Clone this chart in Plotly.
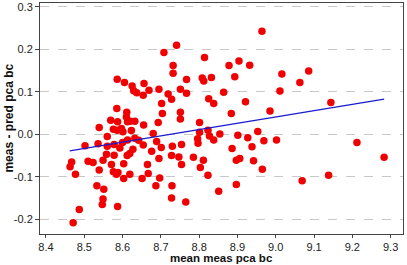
import plotly.graph_objects as go

# data
mean_meas = [
    8.471, 8.487, 8.467, 8.463, 8.477, 8.502, 8.510, 8.523, 8.539, 8.533, 8.536, 8.539,
    8.586, 8.605, 8.625, 8.629, 8.637, 8.654, 8.656, 8.585, 8.611, 8.569, 8.587, 8.610,
    8.613, 8.620, 8.632, 8.576, 8.586, 8.597, 8.601, 8.623, 8.560, 8.632, 8.642, 8.613,
    8.600, 8.655, 8.560, 8.578, 8.593, 8.558, 8.578, 8.627, 8.619, 8.612, 8.654, 8.549,
    8.571, 8.603, 8.576, 8.584, 8.588, 8.603, 8.619, 8.651, 8.551, 8.549, 8.547, 8.587,
    8.964, 8.741, 8.708, 8.732, 8.732, 8.814, 8.878, 8.904, 8.932, 8.893, 8.808, 8.812,
    8.832, 8.767, 8.669, 8.695, 8.719, 8.728, 8.751, 8.767, 8.702, 8.825, 8.838, 8.864,
    8.921, 8.704, 8.751, 8.751, 8.693, 8.801, 8.884, 8.985, 8.680, 8.801, 8.823, 8.827,
    8.854, 8.901, 8.927, 8.953, 8.969, 9.002, 9.016, 9.086, 9.063, 9.011, 9.144,
    8.689, 8.676, 8.701, 8.730, 8.754, 8.695, 8.728, 8.747, 8.754, 8.665, 8.667, 8.697,
    8.687, 8.729, 8.728, 8.765, 8.785, 8.811, 8.803, 8.823, 8.851, 8.796, 8.797, 8.838,
    8.886, 8.938, 8.897, 8.906, 8.942, 8.965, 8.897, 9.069, 9.138, 9.212, 9.283,
]
meas_minus_pred = [
    -0.208, -0.177, -0.065, -0.076, -0.094, -0.027, -0.063, -0.066, -0.084, -0.121, -0.022, 0.016,
    0.130, 0.122, 0.114, 0.103, 0.098, 0.092, 0.120, 0.061, 0.052, 0.033, 0.030, 0.041,
    0.030, 0.031, 0.031, 0.012, 0.010, 0.014, 0.006, 0.009, -0.005, -0.009, -0.014, -0.013,
    -0.019, 0.022, -0.028, -0.024, -0.032, -0.047, -0.049, -0.035, -0.045, -0.050, -0.025, -0.061,
    -0.071, -0.069, -0.088, -0.094, -0.090, -0.104, -0.094, -0.104, -0.129, -0.152, -0.165, -0.170,
    0.243, 0.210, 0.193, 0.162, 0.144, 0.181, 0.162, 0.173, 0.163, 0.136, 0.133, 0.126,
    0.134, 0.129, 0.104, 0.106, 0.095, 0.083, 0.106, 0.097, 0.073, 0.084, 0.073, 0.099,
    0.077, 0.049, 0.052, 0.036, 0.028, 0.028, 0.049, 0.055, 0.002, 0.005, 0.010, -0.004,
    0.001, -0.002, -0.008, 0.007, -0.015, -0.013, 0.142, 0.149, 0.122, 0.102, 0.075,
    -0.017, -0.040, -0.031, -0.028, -0.024, -0.057, -0.050, -0.053, -0.071, -0.071, -0.092, -0.103,
    -0.121, -0.121, -0.150, -0.159, -0.054, -0.061, -0.078, -0.096, -0.134, -0.010, -0.021, -0.013,
    -0.033, -0.029, -0.061, -0.057, -0.062, -0.082, -0.118, -0.109, -0.096, -0.019, -0.054,
]
fit_x = [8.462, 9.283]
fit_y = [-0.039, 0.083]

x_ticks = [8.4, 8.5, 8.6, 8.7, 8.8, 8.9, 9.0, 9.1, 9.2, 9.3]
y_ticks = [-0.2, -0.1, 0.0, 0.1, 0.2, 0.3]
y_tick_text = ["-0.2", "-0.1", "0.0", "0.1", "0.2", "0.3"]
x_title = "mean meas pca bc"
y_title = "meas - pred pca bc"

fig = go.Figure()
fig.add_trace(go.Scatter(
    x=mean_meas, y=meas_minus_pred, mode="markers",
    marker=dict(color="#f00000", size=7.5, line=dict(width=0)),
    showlegend=False, hoverinfo="skip",
))
fig.add_trace(go.Scatter(
    x=fit_x, y=fit_y, mode="lines",
    line=dict(color="#1a1ad0", width=1.2),
    showlegend=False, hoverinfo="skip",
))

font_family = "Liberation Sans, Arial, Helvetica, sans-serif"
fig.update_layout(
    width=407, height=265,
    margin=dict(l=40, r=4, t=3, b=31),
    paper_bgcolor="white", plot_bgcolor="white",
    font=dict(family=font_family, size=11, color="#222"),
    xaxis=dict(
        range=[8.3844, 9.3323], tickvals=x_ticks, ticktext=[f"{v:.1f}" for v in x_ticks],
        showgrid=False, zeroline=False, automargin=False,
        showline=True, linecolor="#444", linewidth=1, mirror=True,
        ticks="outside", ticklen=3, tickcolor="#444", ticklabelstandoff=0,
    ),
    yaxis=dict(
        range=[-0.2346, 0.3094], tickvals=y_ticks, ticktext=y_tick_text,
        showgrid=True, gridcolor="#c8c8c8", griddash="dash", gridwidth=1,
        zeroline=False, automargin=False,
        showline=True, linecolor="#444", linewidth=1, mirror=True,
        ticks="outside", ticklen=4, tickcolor="#444",
    ),
    annotations=[
        dict(text="<b>" + x_title + "</b>", xref="paper", yref="paper",
             x=0.5, y=-0.106, xanchor="center", yanchor="middle",
             showarrow=False, font=dict(size=11.5, color="#111")),
        dict(text="<b>" + y_title + "</b>", xref="paper", yref="paper",
             x=-0.088, y=0.5, xanchor="center", yanchor="middle", textangle=-90,
             showarrow=False, font=dict(size=12, color="#111")),
    ],
)

fig.write_html(
    "out.html",
    config={"displayModeBar": False},
    post_script="document.body.style.margin='0';document.body.style.padding='0';",
)
